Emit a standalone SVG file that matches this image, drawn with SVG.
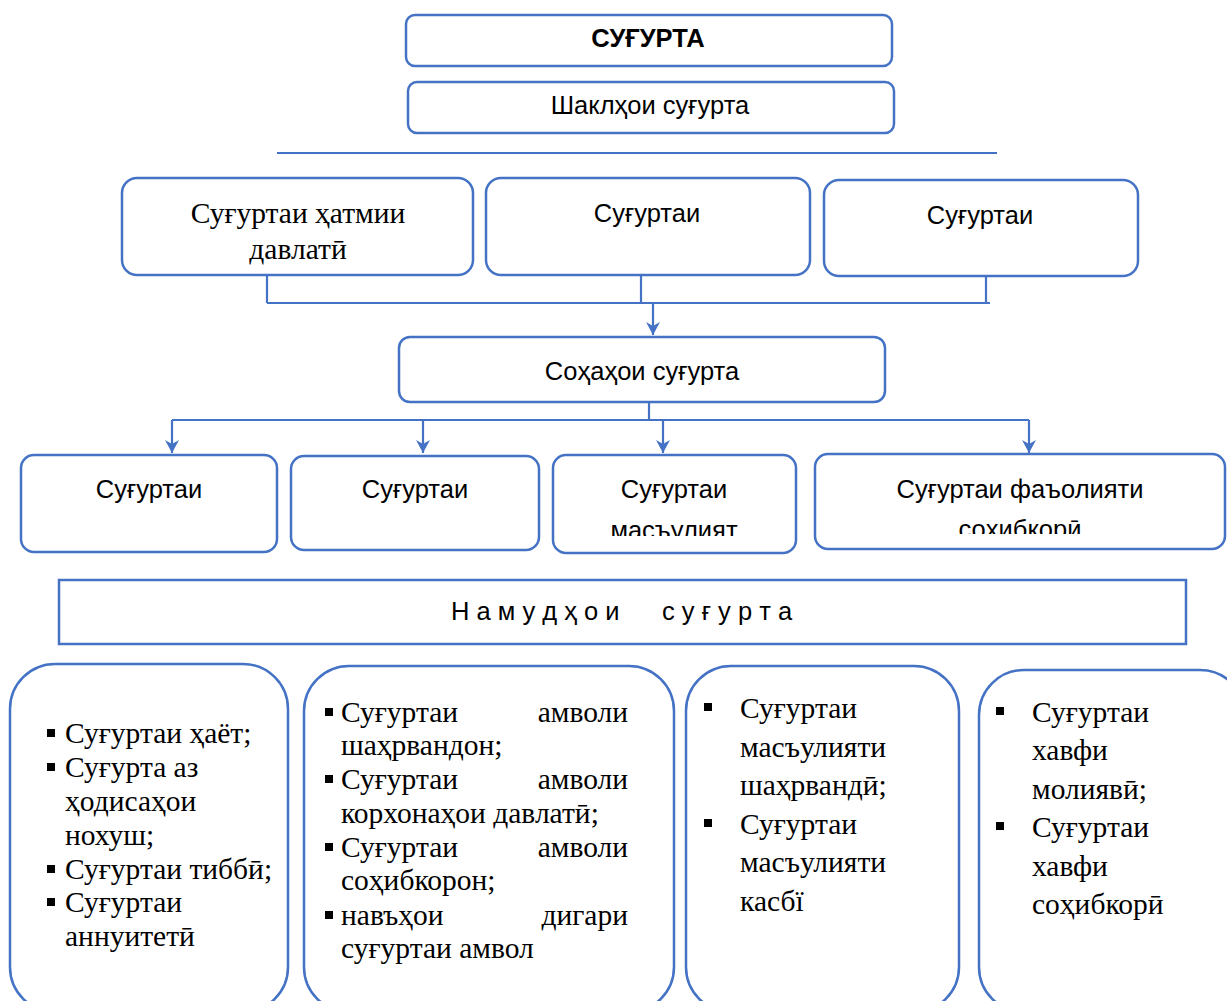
<svg xmlns="http://www.w3.org/2000/svg" width="1227" height="1001" viewBox="0 0 1227 1001">
<style>
.box{fill:#fff;stroke:#4472C4;stroke-width:2.5}
.ln{fill:none;stroke:#4472C4;stroke-width:2.2}
.sans{font-family:"Liberation Sans",Arial,sans-serif;font-size:25.5px;fill:#000}
.serif{font-family:"Liberation Serif","Times New Roman",serif;font-size:29.5px;fill:#000}
.b{fill:#000}
</style>
<defs>
<marker id="ar" markerUnits="userSpaceOnUse" markerWidth="16" markerHeight="16" viewBox="-14 -8 16 16" refX="0" refY="0" orient="auto">
<path d="M0,0 L-13,-7 L-9,0 L-13,7 Z" fill="#4472C4"/>
</marker>
<clipPath id="c3"><rect x="553" y="455" width="243" height="81"/></clipPath>
<clipPath id="c4"><rect x="815" y="454" width="410" height="80"/></clipPath>
</defs>

<g id="connectors">
<line class="ln" x1="277" y1="153" x2="997" y2="153"/>
<path class="ln" d="M267,275 V303 M641,275 V303 M986,276 V303 M267,303 H990"/>
<line class="ln" x1="653" y1="303" x2="653" y2="335" marker-end="url(#ar)"/>
<path class="ln" d="M649,395 V420 M172,420 H1029"/>
<line class="ln" x1="172" y1="420" x2="172" y2="453" marker-end="url(#ar)"/>
<line class="ln" x1="423" y1="420" x2="423" y2="453" marker-end="url(#ar)"/>
<line class="ln" x1="663" y1="420" x2="663" y2="453" marker-end="url(#ar)"/>
<line class="ln" x1="1029" y1="420" x2="1029" y2="453" marker-end="url(#ar)"/>
</g>

<g id="n-sugurta">
<rect class="box" x="406" y="15" width="486" height="51" rx="9"/>
<text class="sans" x="648" y="47" text-anchor="middle" font-weight="bold" font-size="23">СУҒУРТА</text>
</g>
<g id="n-shakl">
<rect class="box" x="408" y="82" width="486" height="51" rx="9"/>
<text class="sans" x="650" y="114" text-anchor="middle" font-size="27">Шаклҳои суғурта</text>
</g>

<g id="n-hatmi">
<rect class="box" x="122" y="178" width="351" height="97" rx="15"/>
<text class="serif" x="298" y="223" text-anchor="middle">Суғуртаи ҳатмии</text>
<text class="serif" x="298" y="259" text-anchor="middle">давлатӣ</text>
</g>
<g id="n-row2b">
<rect class="box" x="486" y="178" width="324" height="97" rx="15"/>
<text class="sans" x="647" y="222" text-anchor="middle" font-size="26.5">Суғуртаи</text>
</g>
<g id="n-row2c">
<rect class="box" x="824" y="180" width="314" height="96" rx="15"/>
<text class="sans" x="980" y="224" text-anchor="middle" font-size="26.5">Суғуртаи</text>
</g>

<g id="n-sohaho">
<rect class="box" x="399" y="337" width="486" height="65" rx="11"/>
<text class="sans" x="642" y="380" text-anchor="middle" font-size="26">Соҳаҳои суғурта</text>
</g>

<g id="n-r4a">
<rect class="box" x="21" y="455" width="256" height="97" rx="13"/>
<text class="sans" x="149" y="498" text-anchor="middle">Суғуртаи</text>
</g>
<g id="n-r4b">
<rect class="box" x="291" y="456" width="248" height="94" rx="13"/>
<text class="sans" x="415" y="498" text-anchor="middle">Суғуртаи</text>
</g>
<g id="n-r4c">
<rect class="box" x="553" y="455" width="243" height="98" rx="13"/>
<g clip-path="url(#c3)">
<text class="sans" x="674" y="498" text-anchor="middle">Суғуртаи</text>
<text class="sans" x="674" y="539" text-anchor="middle">масъулият</text>
</g>
</g>
<g id="n-r4d">
<rect class="box" x="815" y="454" width="410" height="95" rx="13"/>
<g clip-path="url(#c4)">
<text class="sans" x="1020" y="498" text-anchor="middle">Суғуртаи фаъолияти</text>
<text class="sans" x="1020" y="538" text-anchor="middle">соҳибкорӣ</text>
</g>
</g>

<g id="n-namudho">
<rect class="box" x="59" y="580" width="1127" height="64"/>
<text class="sans" x="451" y="620" xml:space="preserve" style="white-space:pre">Н а м у д ҳ о и      с у ғ у р т а</text>
</g>

<g id="n-b1">
<rect class="box" x="10" y="664" width="278" height="348" rx="45"/>
<rect class="b" x="47" y="729" width="8" height="8"/>
<rect class="b" x="47" y="763" width="8" height="8"/>
<rect class="b" x="47" y="865" width="8" height="8"/>
<rect class="b" x="47" y="898" width="8" height="8"/>
<text class="serif" x="65" y="743">Суғуртаи ҳаёт;</text>
<text class="serif" x="65" y="777">Суғурта аз</text>
<text class="serif" x="65" y="811">ҳодисаҳои</text>
<text class="serif" x="65" y="845">нохуш;</text>
<text class="serif" x="65" y="879">Суғуртаи тиббӣ;</text>
<text class="serif" x="65" y="912">Суғуртаи</text>
<text class="serif" x="65" y="946">аннуитетӣ</text>
</g>

<g id="n-b2">
<rect class="box" x="304" y="666" width="370" height="346" rx="45"/>
<rect class="b" x="325" y="708" width="8" height="8"/>
<rect class="b" x="325" y="775" width="8" height="8"/>
<rect class="b" x="325" y="843" width="8" height="8"/>
<rect class="b" x="325" y="911" width="8" height="8"/>
<text class="serif" x="341" y="722">Суғуртаи</text>
<text class="serif" x="628" y="722" text-anchor="end">амволи</text>
<text class="serif" x="341" y="755">шаҳрвандон;</text>
<text class="serif" x="341" y="789">Суғуртаи</text>
<text class="serif" x="628" y="789" text-anchor="end">амволи</text>
<text class="serif" x="341" y="823">корхонаҳои давлатӣ;</text>
<text class="serif" x="341" y="857">Суғуртаи</text>
<text class="serif" x="628" y="857" text-anchor="end">амволи</text>
<text class="serif" x="341" y="890">соҳибкорон;</text>
<text class="serif" x="341" y="925">навъҳои</text>
<text class="serif" x="628" y="925" text-anchor="end">дигари</text>
<text class="serif" x="341" y="958">суғуртаи амвол</text>
</g>

<g id="n-b3">
<rect class="box" x="686" y="666" width="273" height="346" rx="45"/>
<rect class="b" x="704" y="703" width="8" height="8"/>
<rect class="b" x="704" y="819" width="8" height="8"/>
<text class="serif" x="740" y="718">Суғуртаи</text>
<text class="serif" x="740" y="757">масъулияти</text>
<text class="serif" x="740" y="795">шаҳрвандӣ;</text>
<text class="serif" x="740" y="834">Суғуртаи</text>
<text class="serif" x="740" y="872">масъулияти</text>
<text class="serif" x="740" y="911">касбї</text>
</g>

<g id="n-b4">
<rect class="box" x="979" y="670" width="266" height="342" rx="45"/>
<rect class="b" x="996" y="707" width="8" height="8"/>
<rect class="b" x="996" y="822" width="8" height="8"/>
<text class="serif" x="1032" y="722">Суғуртаи</text>
<text class="serif" x="1032" y="760">хавфи</text>
<text class="serif" x="1032" y="799">молиявӣ;</text>
<text class="serif" x="1032" y="837">Суғуртаи</text>
<text class="serif" x="1032" y="876">хавфи</text>
<text class="serif" x="1032" y="914">соҳибкорӣ</text>
</g>
</svg>
